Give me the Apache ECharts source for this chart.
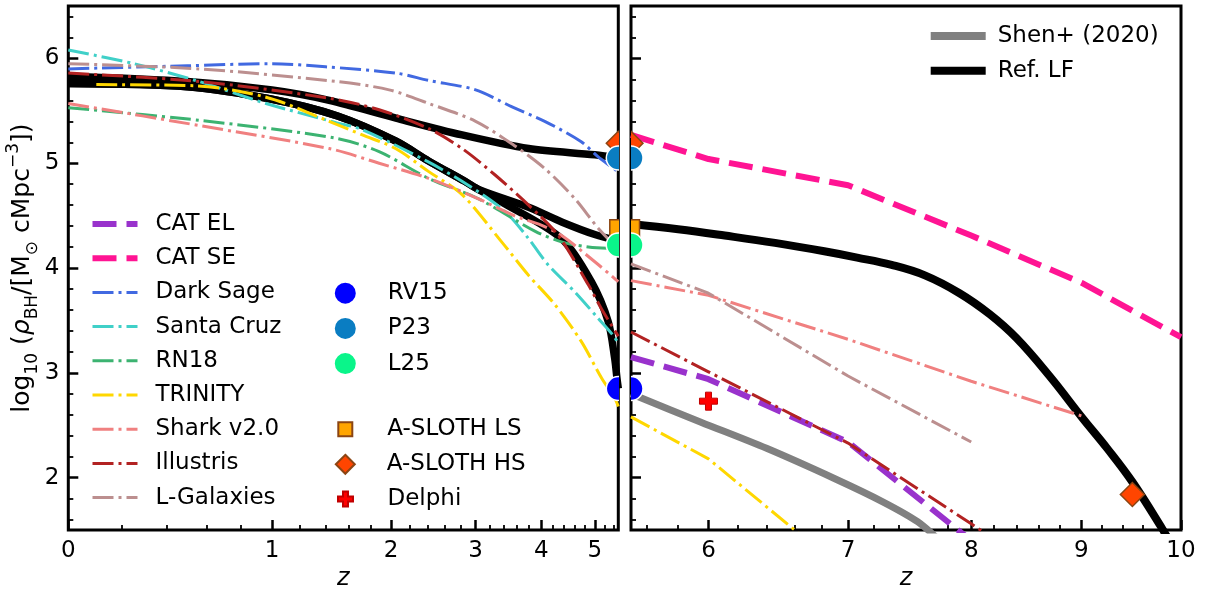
<!DOCTYPE html>
<html><head><meta charset="utf-8">
<script src="https://cdn.jsdelivr.net/npm/echarts@6/dist/echarts.min.js"></script>
<style>html,body{margin:0;padding:0;background:#fff}#c{width:1215px;height:596px}</style>
</head><body><div id="c"></div>
<script>
// ---------------- data (z = redshift, v = log10 rho_BH) ----------------
const zSplit = 5.5, zMaxRight = 10;
const yMin = 1.5, yMax = 6.5;
const xTicksLeft = [0, 1, 2, 3, 4, 5];
const xTicksRight = [6, 7, 8, 9, 10];
const xMinorLeft = [0.2,0.4,0.6,0.8,1.2,1.4,1.6,1.8,2.2,2.4,2.6,2.8,3.2,3.4,3.6,3.8,4.2,4.4,4.6,4.8,5.2,5.4];
const xMinorRight = [5.6,5.8,6.2,6.4,6.6,6.8,7.2,7.4,7.6,7.8,8.2,8.4,8.6,8.8,9.2,9.4,9.6,9.8];
const yTicks = [2, 3, 4, 5, 6];
const yMinor = [1.6,1.8,2.2,2.4,2.6,2.8,3.2,3.4,3.6,3.8,4.2,4.4,4.6,4.8,5.2,5.4,5.6,5.8,6.2,6.4];

// Ref. LF (left panel, three variants)
const refA_z = [0, 0.5, 1, 1.43, 2.05, 2.82, 3.79, 5.0, 5.5];
const refA_v = [5.83, 5.78, 5.70, 5.60, 5.43, 5.27, 5.14, 5.08, 5.05];
const refB_z = [0, 0.5, 1, 1.5, 2.05, 2.41, 2.85, 3.04, 3.79, 4.36, 5.0, 5.5];
const refB_v = [5.76, 5.73, 5.61, 5.45, 5.21, 5.02, 4.83, 4.75, 4.58, 4.44, 4.32, 4.26];
const refC_z = [0, 0.5, 1, 1.5, 2.05, 2.41, 2.85, 3.04, 3.37, 4.36, 4.93, 5.28, 5.42, 5.47, 5.5];
const refC_v = [5.76, 5.73, 5.61, 5.45, 5.21, 5.02, 4.83, 4.75, 4.63, 4.28, 3.87, 3.49, 3.14, 2.95, 2.85];
// Ref. LF (right panel)
const refR_z = [5.5, 5.8, 6.11, 6.46, 6.82, 7.07, 7.34, 7.61, 7.9, 8.16, 8.4, 8.7, 9.01, 9.25, 9.5, 9.8, 9.9];
const refR_v = [4.42, 4.37, 4.31, 4.24, 4.16, 4.10, 4.03, 3.93, 3.76, 3.56, 3.33, 2.97, 2.57, 2.28, 1.96, 1.52, 1.36];

const darkSage_z = [0, 0.5, 1, 1.4, 2.05, 2.41, 3.0, 3.52, 4.06, 4.73, 5.07, 5.4, 5.5];
const darkSage_v = [5.90, 5.93, 5.95, 5.92, 5.86, 5.79, 5.70, 5.54, 5.40, 5.205, 5.06, 4.95, 4.91];
const santaCruz_z = [0, 0.25, 0.56, 0.96, 1.48, 1.72, 2.41, 2.9, 3.42, 3.79, 4.12, 4.61, 5.07, 5.4, 5.5];
const santaCruz_v = [6.08, 5.95, 5.78, 5.57, 5.39, 5.32, 5.01, 4.79, 4.54, 4.28, 4.03, 3.77, 3.52, 3.35, 3.28];
const rn18_z = [0, 0.56, 1.48, 1.88, 2.41, 3.04, 3.9, 4.36, 4.87, 5.28, 5.5];
const rn18_v = [5.53, 5.41, 5.24, 5.11, 4.855, 4.66, 4.35, 4.25, 4.20, 4.19, 4.19];
const trinityL_z = [0.1, 0.53, 0.96, 1.43, 1.72, 2.045, 2.41, 2.82, 3.37, 3.79, 4.24, 4.73, 5.14, 5.42, 5.5];
const trinityL_v = [5.75, 5.74, 5.63, 5.40, 5.27, 5.14, 4.92, 4.70, 4.25, 3.93, 3.65, 3.30, 2.95, 2.76, 2.68];
const trinityR_z = [5.5, 6, 7];
const trinityR_v = [2.58, 2.18, 1.08];
const sharkL_z = [0, 0.56, 1.43, 1.88, 2.41, 3.04, 3.56, 4.0, 4.36, 5.0, 5.42, 5.5];
const sharkL_v = [5.57, 5.36, 5.14, 5.0, 4.855, 4.66, 4.50, 4.41, 4.31, 4.06, 3.90, 3.87];
const sharkR_z = [5.5, 6, 7, 8, 9];
const sharkR_v = [3.88, 3.74, 3.32, 2.92, 2.59];
const illustrisL_z = [0, 0.56, 1.43, 1.88, 2.41, 2.82, 3.27, 3.79, 4.30, 4.87, 5.14, 5.5];
const illustrisL_v = [5.86, 5.78, 5.62, 5.51, 5.33, 5.14, 4.89, 4.60, 4.31, 3.84, 3.61, 3.35];
const illustrisR_z = [5.5, 6, 7, 8, 8.5];
const illustrisR_v = [3.39, 3.01, 2.33, 1.56, 1.2];
const lgalL_z = [0, 0.56, 1.49, 1.98, 2.41, 3.0, 3.56, 4.06, 4.61, 5.07, 5.5];
const lgalL_v = [5.95, 5.90, 5.78, 5.70, 5.57, 5.40, 5.17, 4.95, 4.66, 4.38, 4.18];
const lgalR_z = [5.5, 6, 7, 8];
const lgalR_v = [4.04, 3.76, 2.97, 2.34];
const catEL_z = [5.5, 6, 7, 8];
const catEL_v = [3.15, 2.94, 2.34, 1.40];
const catSE_z = [5.5, 6, 7, 8, 9, 10];
const catSE_v = [5.27, 5.04, 4.79, 4.31, 3.86, 3.34];
const shen_z = [5.5, 5.95, 6.4, 6.9, 7.27, 7.55, 7.75];
const shen_v = [2.80, 2.53, 2.28, 1.99, 1.77, 1.58, 1.38];

// observational / model points
const rv15_z = [5.5], rv15_v = [2.85];
const p23_z = [5.5], p23_v = [5.05];
const l25_z = [5.5], l25_v = [4.22];
const asLS_z = [5.5], asLS_v = [4.38];
const asHS_z = [5.5, 9.5], asHS_v = [5.19, 1.84];
const delphi_z = [6], delphi_v = [2.73];

const lineLegendNames = ['CAT EL', 'CAT SE', 'Dark Sage', 'Santa Cruz', 'RN18', 'TRINITY', 'Shark v2.0', 'Illustris', 'L-Galaxies'];
const rightLegendNames = ['Shen+ (2020)', 'Ref. LF'];

// ---------------- helpers ----------------
const FONT = 'DejaVu Sans';
const lx = z => Math.log10(1 + z);
const DASHDOT = [21, 5, 3, 5];
const DASHED = [24, 10];

const C = {
  ref: '#000000', shen: '#808080', catEL: '#9932CC', catSE: '#FF1493', darkSage: '#4169E1',
  santaCruz: '#40D0C8', rn18: '#3CB371', trinity: '#FFD700', shark: '#F08080', illustris: '#B22222', lgal: '#BC8F8F'
};
// legend handle styles (colour, width, dash)
const handleStyle = {
  'CAT EL': [C.catEL, 6, DASHED], 'CAT SE': [C.catSE, 6, DASHED],
  'Dark Sage': [C.darkSage, 3, DASHDOT], 'Santa Cruz': [C.santaCruz, 3, DASHDOT], 'RN18': [C.rn18, 3, DASHDOT],
  'TRINITY': [C.trinity, 3, DASHDOT], 'Shark v2.0': [C.shark, 3, DASHDOT], 'Illustris': [C.illustris, 3, DASHDOT],
  'L-Galaxies': [C.lgal, 3, DASHDOT], 'Shen+ (2020)': [C.shen, 8, 'solid'], 'Ref. LF': [C.ref, 8, 'solid']
};

function lineSeries(name, zs, vs, g, color, width, dash, smooth) {
  return {
    type: 'line', name, xAxisIndex: g * 2, yAxisIndex: g * 2,
    data: zs.map((z, i) => [lx(z), vs[i]]),
    symbol: 'none', showSymbol: false, clip: true, smooth: smooth,
    lineStyle: { color, width, type: dash || 'solid', cap: 'butt', join: 'round' },
    itemStyle: { color }, z: 2
  };
}

function markerSeries(name, shape, zs, vs, g, size, fill, stroke, lw, zz) {
  const pts = [];
  zs.forEach((z, i) => { if (g === 0 ? z <= zSplit : z >= zSplit) pts.push([lx(z), vs[i]]); });
  return {
    type: 'custom', name, xAxisIndex: g * 2, yAxisIndex: g * 2, clip: true, z: zz || 5,
    itemStyle: { color: fill, borderColor: stroke, borderWidth: lw },
    data: pts,
    renderItem: function (params, api) {
      const c = api.coord([api.value(0), api.value(1)]);
      const h = size / 2;
      const style = { fill: fill, stroke: stroke, lineWidth: lw };
      if (shape === 'circle') return { type: 'circle', shape: { cx: c[0], cy: c[1], r: h }, style };
      if (shape === 'square') return { type: 'rect', shape: { x: c[0] - h, y: c[1] - h, width: size, height: size }, style };
      if (shape === 'diamond') return { type: 'polygon', shape: { points: [[c[0], c[1] - h], [c[0] + h, c[1]], [c[0], c[1] + h], [c[0] - h, c[1]]] }, style };
      const t = size / 6;
      return { type: 'polygon', shape: { points: [
        [c[0] - t, c[1] - h], [c[0] + t, c[1] - h], [c[0] + t, c[1] - t], [c[0] + h, c[1] - t], [c[0] + h, c[1] + t], [c[0] + t, c[1] + t],
        [c[0] + t, c[1] + h], [c[0] - t, c[1] + h], [c[0] - t, c[1] + t], [c[0] - h, c[1] + t], [c[0] - h, c[1] - t], [c[0] - t, c[1] - t]] }, style };
    }
  };
}

function xAxisPair(g, min, max, majors, minors) {
  const major = {
    type: 'value', gridIndex: g, min: lx(min), max: lx(max), position: 'bottom',
    axisLine: { show: false }, splitLine: { show: false },
    axisTick: { show: true, inside: true, length: 10, customValues: majors.map(lx), lineStyle: { color: '#000', width: 2.5 } },
    axisLabel: { show: true, customValues: majors.map(lx), margin: 9, color: '#000', fontSize: 23, fontFamily: FONT,
      formatter: v => String(Math.round(Math.pow(10, v) - 1)) },
    name: 'z', nameLocation: 'middle', nameGap: 36,
    nameTextStyle: { fontSize: 24, fontStyle: 'italic', color: '#000', fontFamily: FONT }
  };
  const minor = {
    type: 'value', gridIndex: g, min: lx(min), max: lx(max), position: 'bottom',
    axisLine: { show: false }, splitLine: { show: false },
    axisTick: { show: true, inside: true, length: 5, customValues: minors.map(lx), lineStyle: { color: '#000', width: 1.8 } },
    axisLabel: { show: false, customValues: minors.map(lx) }
  };
  return [major, minor];
}

function yAxisPair(g, showLabels) {
  const major = {
    type: 'value', gridIndex: g, min: yMin, max: yMax, position: 'left',
    axisLine: { show: false }, splitLine: { show: false },
    axisTick: { show: true, inside: true, length: 10, customValues: yTicks, lineStyle: { color: '#000', width: 2.5 } },
    axisLabel: { show: showLabels, customValues: yTicks, margin: 9, color: '#000', fontSize: 23, fontFamily: FONT }
  };
  if (showLabels) {
    major.name = '{n|log}{s|10}{n| (}{i|ρ}{s|BH}{n|/[M}{s|⊙}{n| cMpc}{p|−3}{n|])}';
    major.nameLocation = 'middle';
    major.nameRotate = 90;
    major.nameGap = 26;
    major.nameTextStyle = {
      color: '#000', fontFamily: FONT, fontSize: 25,
      rich: {
        n: { fontSize: 25, fontFamily: FONT, color: '#000', lineHeight: 36, verticalAlign: 'middle' },
        i: { fontSize: 25, fontFamily: FONT, color: '#000', fontStyle: 'italic', lineHeight: 36, verticalAlign: 'middle' },
        s: { fontSize: 17, fontFamily: FONT, color: '#000', lineHeight: 17, verticalAlign: 'bottom' },
        p: { fontSize: 17, fontFamily: FONT, color: '#000', lineHeight: 17, verticalAlign: 'top' }
      }
    };
  }
  const minor = {
    type: 'value', gridIndex: g, min: yMin, max: yMax, position: 'left',
    axisLine: { show: false }, splitLine: { show: false },
    axisTick: { show: true, inside: true, length: 5, customValues: yMinor, lineStyle: { color: '#000', width: 1.8 } },
    axisLabel: { show: false, customValues: yMinor }
  };
  return [major, minor];
}

const series = [
  // left panel
  lineSeries('Ref. LF', refA_z, refA_v, 0, C.ref, 7.5, null, 0.3),
  lineSeries('Ref. LF', refB_z, refB_v, 0, C.ref, 7.5, null, 0.3),
  lineSeries('Ref. LF', refC_z, refC_v, 0, C.ref, 7.5, null, 0.3),
  lineSeries('Dark Sage', darkSage_z, darkSage_v, 0, C.darkSage, 3, DASHDOT, 0.3),
  lineSeries('Santa Cruz', santaCruz_z, santaCruz_v, 0, C.santaCruz, 3, DASHDOT, 0.3),
  lineSeries('RN18', rn18_z, rn18_v, 0, C.rn18, 3, DASHDOT, 0.3),
  lineSeries('TRINITY', trinityL_z, trinityL_v, 0, C.trinity, 3, DASHDOT, 0.3),
  lineSeries('Shark v2.0', sharkL_z, sharkL_v, 0, C.shark, 3, DASHDOT, 0.3),
  lineSeries('Illustris', illustrisL_z, illustrisL_v, 0, C.illustris, 3, DASHDOT, 0.3),
  lineSeries('L-Galaxies', lgalL_z, lgalL_v, 0, C.lgal, 3, DASHDOT, 0.3),
  // right panel
  lineSeries('Ref. LF', refR_z, refR_v, 1, C.ref, 8, null, 0.4),
  lineSeries('Shen+ (2020)', shen_z, shen_v, 1, C.shen, 7, null, 0.3),
  lineSeries('CAT EL', catEL_z, catEL_v, 1, C.catEL, 6, DASHED, false),
  lineSeries('CAT SE', catSE_z, catSE_v, 1, C.catSE, 6, DASHED, false),
  lineSeries('TRINITY', trinityR_z, trinityR_v, 1, C.trinity, 3, DASHDOT, false),
  lineSeries('Shark v2.0', sharkR_z, sharkR_v, 1, C.shark, 3, DASHDOT, false),
  lineSeries('Illustris', illustrisR_z, illustrisR_v, 1, C.illustris, 3, DASHDOT, false),
  lineSeries('L-Galaxies', lgalR_z, lgalR_v, 1, C.lgal, 3, DASHDOT, false)
];
[0, 1].forEach(g => {
  series.push(markerSeries('A-SLOTH HS', 'diamond', asHS_z, asHS_v, g, 24, '#FF4500', '#8B4513', 1.5, 5));
  series.push(markerSeries('A-SLOTH LS', 'square', asLS_z, asLS_v, g, 17, '#FFA500', '#8B4513', 1.5, 5));
  series.push(markerSeries('RV15', 'circle', rv15_z, rv15_v, g, 24, '#0000FF', '#FFFFFF', 1.5, 6));
  series.push(markerSeries('P23', 'circle', p23_z, p23_v, g, 24, '#0A7DC2', '#FFFFFF', 1.5, 6));
  series.push(markerSeries('L25', 'circle', l25_z, l25_v, g, 24, '#0AF58A', '#FFFFFF', 1.5, 6));
  series.push(markerSeries('Delphi', 'plus', delphi_z, delphi_v, g, 18, '#FF0000', '#C00000', 1, 6));
});

const legendText = (pad) => ({ color: '#000', fontSize: 23, fontFamily: FONT, lineHeight: 24, padding: [0, 0, 0, pad] });
const PLUS_ICON = 'path://M1,0H2V1H3V2H2V3H1V2H0V1H1Z';
const lineLegendItem = name => {
  const s = handleStyle[name];
  return { name, itemStyle: { opacity: 0, color: 'transparent', borderWidth: 0 },
    lineStyle: { color: s[0], width: s[1], type: s[2], cap: 'butt', opacity: 1 } };
};

const option = {
  animation: false,
  backgroundColor: '#fff',
  grid: [
    { left: 68.3, top: 6, width: 550, height: 526, show: true, borderColor: '#000', borderWidth: 3, backgroundColor: 'transparent', containLabel: false },
    { left: 631, top: 6, width: 550, height: 526, show: true, borderColor: '#000', borderWidth: 3, backgroundColor: 'transparent', containLabel: false }
  ],
  xAxis: [
    ...xAxisPair(0, 0, zSplit, xTicksLeft, xMinorLeft),
    ...xAxisPair(1, zSplit, zMaxRight, xTicksRight, xMinorRight)
  ],
  yAxis: [
    ...yAxisPair(0, true),
    ...yAxisPair(1, false)
  ],
  legend: [
    { data: lineLegendNames.map(lineLegendItem), orient: 'vertical', left: 89.5, top: 212, padding: 0, itemGap: 10.2,
      itemWidth: 45, itemHeight: 14, selectedMode: false, textStyle: legendText(13) },
    { data: [{ name: 'RV15', icon: 'circle' }, { name: 'P23', icon: 'circle' }, { name: 'L25', icon: 'circle' }],
      orient: 'vertical', left: 332.8, top: 280.7, padding: 0, itemGap: 10.2, itemWidth: 23, itemHeight: 23,
      selectedMode: false, textStyle: legendText(26) },
    { data: [{ name: 'A-SLOTH LS', icon: 'rect' }], orient: 'vertical', left: 337.3, top: 417.3, padding: 0,
      itemWidth: 14, itemHeight: 14, selectedMode: false, textStyle: legendText(30) },
    { data: [{ name: 'A-SLOTH HS', icon: 'diamond' }], orient: 'vertical', left: 334.8, top: 452.3, padding: 0,
      itemWidth: 19, itemHeight: 19, selectedMode: false, textStyle: legendText(27) },
    { data: [{ name: 'Delphi', icon: PLUS_ICON }], orient: 'vertical', left: 337, top: 487, padding: 0,
      itemWidth: 15, itemHeight: 15, selectedMode: false, textStyle: legendText(29.5) },
    { data: rightLegendNames.map(lineLegendItem), orient: 'vertical', left: 926.7, top: 24, padding: 0, itemGap: 10.7,
      itemWidth: 55, itemHeight: 14, selectedMode: false, textStyle: legendText(7) }
  ],
  series
};

const chart = echarts.init(document.getElementById('c'), null, { renderer: 'canvas' });
chart.setOption(option);
</script>
</body></html>
